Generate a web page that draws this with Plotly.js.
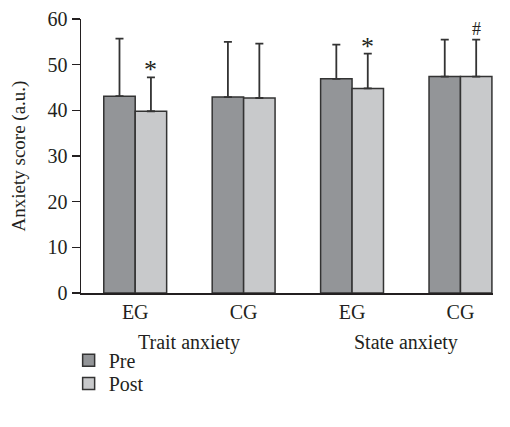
<!DOCTYPE html>
<html>
<head>
<meta charset="utf-8">
<script src="https://cdn.plot.ly/plotly-3.0.1.min.js"></script>
<style>html,body{margin:0;padding:0;background:#fff;}#chart{width:510px;height:427px;}</style>
</head>
<body>
<div id="chart"></div>
<script>
const groupLabels = ["EG", "CG", "EG", "CG"];
const sectionLabels = ["Trait anxiety", "State anxiety"];
const preValues = [43.1, 42.9, 46.9, 47.4];
const preErrors = [12.6, 12.1, 7.5, 8.1];
const postValues = [39.8, 42.7, 44.8, 47.4];
const postErrors = [7.4, 11.9, 7.6, 8.1];
const postMarks = ["*", "", "*", "#"];
const seriesNames = ["Pre", "Post"];

const xpos = groupLabels.map((_, i) => i);
const FONT = "Liberation Serif, Times New Roman, serif";
const TXT = "#231f20";

const traces = [
  {
    type: "bar", name: seriesNames[0], x: xpos, y: preValues, legend: "legend",
    marker: {color: "#939598", line: {color: "#333333", width: 1.5}},
    error_y: {type: "data", array: preErrors, arrayminus: preErrors.map(() => 0), symmetric: false,
              color: "#333333", thickness: 1.8, width: 4}
  },
  {
    type: "bar", name: seriesNames[1], x: xpos, y: postValues, legend: "legend2",
    marker: {color: "#c8c9cb", line: {color: "#333333", width: 1.5}},
    error_y: {type: "data", array: postErrors, arrayminus: postErrors.map(() => 0), symmetric: false,
              color: "#333333", thickness: 1.8, width: 4}
  }
];

const annotations = [];
postMarks.forEach((m, i) => {
  if (!m) return;
  annotations.push({
    x: i + 0.145, y: postValues[i] + postErrors[i], xref: "x", yref: "y",
    text: m, showarrow: false, yanchor: "bottom", yshift: m === "*" ? -9 : -1,
    font: {family: FONT, size: m === "*" ? 26 : 18, color: TXT}
  });
});
sectionLabels.forEach((s, k) => {
  annotations.push({
    x: 2 * k + 0.5, y: 0, xref: "x", yref: "paper", yanchor: "top", yshift: -36,
    text: s, showarrow: false, font: {family: FONT, size: 20, color: TXT}
  });
});

const legendBase = {x: -0.03, xanchor: "left", yanchor: "middle", orientation: "v",
                    font: {family: FONT, size: 20, color: TXT}, bgcolor: "rgba(0,0,0,0)"};

const layout = {
  width: 510, height: 427,
  margin: {l: 81, r: 17, t: 19, b: 134},
  paper_bgcolor: "#fff", plot_bgcolor: "#fff",
  font: {family: FONT, size: 19, color: TXT},
  barmode: "group", bargap: 0.42, bargroupgap: 0,
  showlegend: true,
  legend: Object.assign({}, legendBase, {y: -0.245}),
  legend2: Object.assign({}, legendBase, {y: -0.33}),
  xaxis: {
    range: [-0.5, 3.3], tickvals: xpos, ticktext: groupLabels,
    showgrid: false, zeroline: false, showline: true, linecolor: "#231f20", linewidth: 1.5,
    ticks: "", tickfont: {family: FONT, size: 20, color: TXT}, fixedrange: true
  },
  yaxis: {
    range: [0, 60], tickvals: [0, 10, 20, 30, 40, 50, 60],
    showgrid: false, zeroline: false, showline: true, linecolor: "#231f20", linewidth: 1.5,
    ticks: "outside", ticklen: 8, tickwidth: 1.5, tickcolor: "#231f20",
    tickfont: {family: FONT, size: 20, color: TXT},
    title: {text: "Anxiety score (a.u.)", font: {family: FONT, size: 19, color: TXT}, standoff: 17}
  },
  annotations: annotations
};

Plotly.newPlot("chart", traces, layout, {displayModeBar: false, staticPlot: true});
</script>
</body>
</html>
